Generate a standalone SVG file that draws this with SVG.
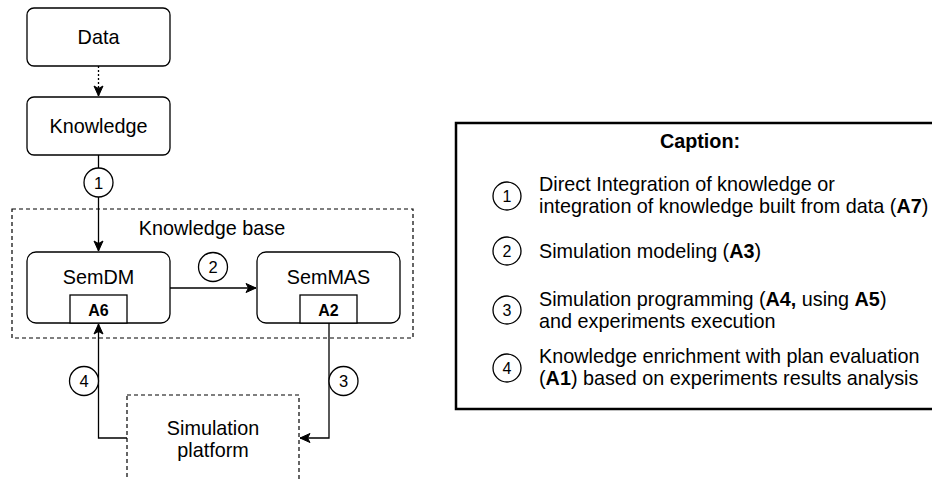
<svg xmlns="http://www.w3.org/2000/svg" width="932" height="479" viewBox="0 0 932 479">
<style>
  text { font-family: "Liberation Sans", Arial, Helvetica, sans-serif; fill: #000; }
  .lbl { font-size: 19.8px; text-anchor: middle; }
  .cap { font-size: 19.8px; }
  .b { font-weight: bold; }
  .num { font-size: 16.5px; text-anchor: middle; }
  .cnum { font-size: 16px; text-anchor: middle; }
  .node { fill: #fff; stroke: #000; stroke-width: 1.3; }
  .dash { fill: none; stroke: #000; stroke-width: 1.2; stroke-dasharray: 4 3; }
  .edge { fill: none; stroke: #000; stroke-width: 1.3; }
  .circ { fill: #fff; stroke: #000; stroke-width: 1.3; }
</style>
<defs>
  <marker id="arr" markerUnits="userSpaceOnUse" markerWidth="12" markerHeight="12" viewBox="0 0 12 12" refX="11" refY="6" orient="auto">
    <path d="M1,1.5 L11,6 L1,10.5 L3.5,6 Z" fill="#000" stroke="#000" stroke-width="1"/>
  </marker>
</defs>

<g id="knowledge-base">
  <rect class="dash" x="12" y="209" width="401" height="129"/>
  <text class="lbl" x="212" y="235">Knowledge base</text>
</g>

<g id="simulation-platform">
  <rect class="dash" x="127" y="395" width="172" height="100"/>
  <text class="lbl" x="213" y="435">Simulation</text>
  <text class="lbl" x="213" y="457">platform</text>
</g>

<g id="connectors">
  <line class="edge" x1="98.5" y1="66" x2="98.5" y2="96" stroke-dasharray="2 2" marker-end="url(#arr)"/>
  <line class="edge" x1="98.5" y1="155" x2="98.5" y2="251" marker-end="url(#arr)"/>
  <line class="edge" x1="170" y1="288" x2="256" y2="288" marker-end="url(#arr)"/>
  <polyline class="edge" points="329,323 329,438 300,438" marker-end="url(#arr)"/>
  <polyline class="edge" points="127,438 98.5,438 98.5,324" marker-end="url(#arr)"/>
  <g id="label-1"><circle class="circ" cx="98.5" cy="182.5" r="14.5"/><text class="num" x="98.5" y="188.5">1</text></g>
  <g id="label-2"><circle class="circ" cx="213" cy="267" r="14.5"/><text class="num" x="213" y="273">2</text></g>
  <g id="label-3"><circle class="circ" cx="343.5" cy="381" r="14.5"/><text class="num" x="343.5" y="387">3</text></g>
  <g id="label-4"><circle class="circ" cx="84" cy="381" r="14.5"/><text class="num" x="84" y="387">4</text></g>
</g>

<g id="data">
  <rect class="node" x="27" y="8" width="143" height="58" rx="7"/>
  <text class="lbl" x="98.5" y="44">Data</text>
</g>

<g id="knowledge">
  <rect class="node" x="27" y="97" width="143" height="58" rx="7"/>
  <text class="lbl" x="98.5" y="133">Knowledge</text>
</g>

<g id="semdm">
  <rect class="node" x="27" y="252" width="143" height="71" rx="9"/>
  <text class="lbl" x="98.5" y="284">SemDM</text>
  <rect class="node" x="70" y="295" width="57" height="28"/>
  <text class="lbl b" x="98.5" y="316" style="font-size:16px">A6</text>
</g>

<g id="semmas">
  <rect class="node" x="257" y="252" width="143" height="71" rx="9"/>
  <text class="lbl" x="328.5" y="284">SemMAS</text>
  <rect class="node" x="300" y="295" width="57" height="28"/>
  <text class="lbl b" x="328.5" y="316" style="font-size:16px">A2</text>
</g>

<g id="caption">
  <rect x="456" y="123" width="490" height="286" fill="#fff" stroke="#000" stroke-width="2.5"/>
  <text class="cap b" x="700" y="148" text-anchor="middle">Caption:</text>
  <circle class="circ" cx="507" cy="196" r="14"/><text class="cnum" x="507" y="201.5">1</text>
  <text class="cap" x="539" y="191">Direct Integration of knowledge or</text>
  <text class="cap" x="539" y="213">integration of knowledge built from data (<tspan class="b">A7</tspan>)</text>
  <circle class="circ" cx="507" cy="251" r="14"/><text class="cnum" x="507" y="256.5">2</text>
  <text class="cap" x="539" y="258">Simulation modeling (<tspan class="b">A3</tspan>)</text>
  <circle class="circ" cx="507" cy="310" r="14"/><text class="cnum" x="507" y="315.5">3</text>
  <text class="cap" x="539" y="306">Simulation programming (<tspan class="b">A4,</tspan> using <tspan class="b">A5</tspan>)</text>
  <text class="cap" x="539" y="328">and experiments execution</text>
  <circle class="circ" cx="507" cy="368" r="14"/><text class="cnum" x="507" y="373.5">4</text>
  <text class="cap" x="539" y="363">Knowledge enrichment with plan evaluation</text>
  <text class="cap" x="539" y="385">(<tspan class="b">A1</tspan>) based on experiments results analysis</text>
</g>
</svg>
